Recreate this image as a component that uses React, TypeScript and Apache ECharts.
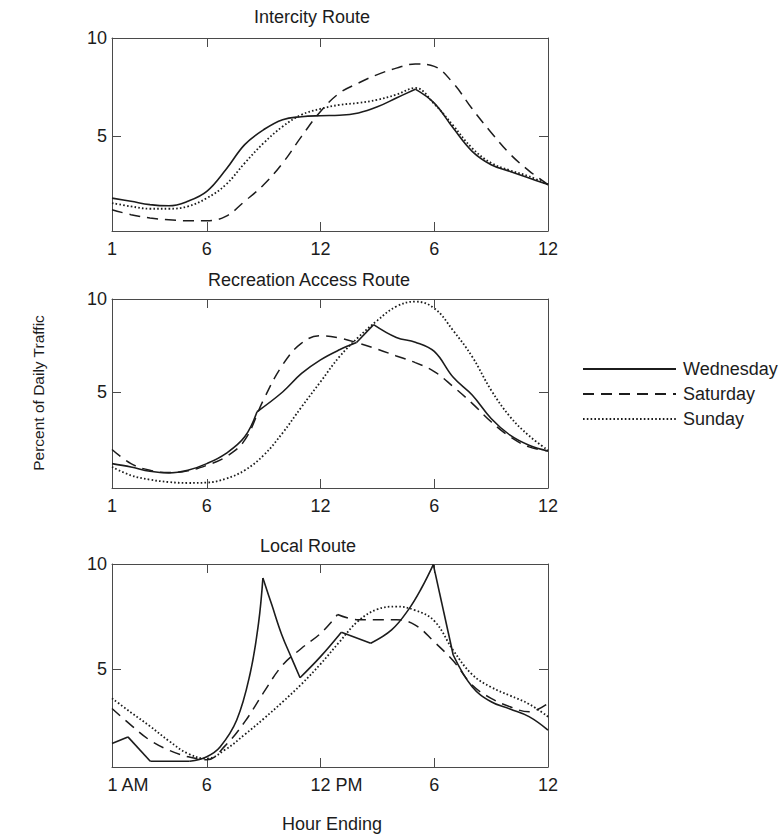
import React, { useEffect, useRef } from "react";
import * as echarts from "echarts";

const FONT = "'Liberation Sans', Arial, Helvetica, sans-serif";
const INK = "#1c1c1c";
const AXIS = "#4a4a4a";

// ---------- text / ticks ----------
const panelTitles = ["Intercity Route", "Recreation Access Route", "Local Route"];
const dayNames = ["Wednesday", "Saturday", "Sunday"];
const xLabelValues = [1, 6, 12, 18, 24];
const xTickValues = [6, 12, 18];
const hourLabels = ["1", "6", "12", "6", "12"];
const localHourLabels = ["1 AM", "6", "12 PM", "6", "12"];
const yLabelValues = [5, 10];
const yTickValues = [5];
const xAxisTitle = "Hour Ending";
const yAxisTitle = "Percent of Daily Traffic";

// ---------- data ----------
const hours = [1, 2, 3, 4, 5, 6, 7, 8, 9, 10, 11, 12, 13, 14, 15, 16, 17, 18, 19, 20, 21, 22, 23, 24];

// Intercity Route
const intercityWed = [1.86, 1.7, 1.53, 1.47, 1.7, 2.2, 3.3, 4.58, 5.34, 5.85, 6.0, 6.05, 6.07, 6.19, 6.5, 6.95, 7.4, 6.69, 5.42, 4.24, 3.56, 3.22, 2.88, 2.55];
const intercityWedCorners = [17];
const intercitySat = [1.27, 1.02, 0.85, 0.76, 0.71, 0.71, 0.93, 1.7, 2.54, 3.64, 5.0, 6.27, 7.2, 7.71, 8.14, 8.47, 8.68, 8.56, 7.7, 6.4, 5.2, 4.1, 3.25, 2.55];
const intercitySun = [1.61, 1.44, 1.32, 1.32, 1.44, 1.86, 2.54, 3.64, 4.66, 5.5, 6.1, 6.4, 6.6, 6.7, 6.86, 7.12, 7.46, 6.65, 5.55, 4.4, 3.65, 3.27, 2.97, 2.55];

// Recreation Access Route
const recWedHours = [1, 2, 3, 4, 5, 6, 7, 8, 8.65, 10, 11, 12, 13, 13.9, 14.8, 16, 17, 18, 19, 20, 21, 22, 23, 24];
const recWed = [1.15, 0.97, 0.74, 0.65, 0.79, 1.15, 1.69, 2.59, 3.94, 5.0, 6.0, 6.73, 7.27, 7.66, 8.62, 7.93, 7.68, 7.18, 5.79, 4.84, 3.58, 2.68, 2.14, 1.83];
const recWedCorners = [8.65, 13.9, 14.8];
const recSat = [1.91, 1.15, 0.79, 0.67, 0.76, 1.06, 1.51, 2.41, 4.6, 6.46, 7.63, 8.02, 7.9, 7.63, 7.3, 6.94, 6.58, 6.1, 5.29, 4.39, 3.4, 2.59, 2.05, 1.83];
const recSun = [0.97, 0.52, 0.29, 0.16, 0.11, 0.13, 0.34, 0.79, 1.6, 2.8, 4.2, 5.55, 6.9, 7.95, 8.85, 9.6, 9.86, 9.5, 8.3, 6.9, 5.1, 3.67, 2.65, 1.87];

// Local Route
const localWedHours = [1, 1.84, 3.02, 5.1, 6, 6.7, 7.58, 8.29, 8.73, 8.96, 9.43, 9.96, 10.48, 10.92, 12, 13.1, 14.65, 15.75, 16.63, 17.33, 17.95, 19, 20, 21, 22, 23, 24];
const localWed = [1.48, 1.79, 0.63, 0.63, 0.85, 1.31, 2.59, 4.81, 7.19, 9.33, 8.06, 6.63, 5.52, 4.6, 5.6, 6.76, 6.24, 6.87, 7.82, 8.86, 9.97, 5.68, 4.17, 3.46, 3.11, 2.75, 2.11];
const localWedCorners = [1.84, 3.02, 5.1, 8.96, 10.92, 13.1, 14.65, 17.95, 19];
const localSatHours = [1, 2, 3, 4, 5, 6, 7, 8, 9, 10, 11, 12, 12.9, 14, 15, 16, 17, 18, 19, 20, 21, 22, 23, 24];
const localSat = [3.14, 2.35, 1.63, 1.16, 0.85, 0.7, 1.4, 2.5, 3.9, 5.2, 6.0, 6.7, 7.6, 7.35, 7.35, 7.35, 7.1, 6.3, 5.4, 4.25, 3.62, 3.22, 2.98, 3.38];
const localSatCorners = [12.9];
const localSun = [3.62, 2.95, 2.3, 1.6, 1.0, 0.76, 1.2, 1.9, 2.65, 3.45, 4.3, 5.25, 6.3, 7.3, 7.85, 7.98, 7.8, 7.3, 5.9, 4.75, 4.15, 3.75, 3.35, 2.75];

// ---------- layout ----------
const panelLayout = [
  { top: 38, height: 193, yMin: 0.19, titleY: 17 },
  { top: 299, height: 189, yMin: -0.16, titleY: 280 },
  { top: 564, height: 203, yMin: 0.36, titleY: 546 },
];
const titleX = [312, 309, 308];

const dayStyles: Record<string, any> = {
  Wednesday: { type: "solid", width: 1.6 },
  Saturday: { type: [11, 7], width: 1.5 },
  Sunday: { type: [1.6, 2.2], width: 1.8 },
};

function splitSegments(xs: number[], ys: number[], corners: number[]) {
  const segs: number[][][] = [];
  let cur: number[][] = [];
  xs.forEach((x, i) => {
    cur.push([x, ys[i]]);
    if (corners.includes(x) && i > 0 && i < xs.length - 1) {
      segs.push(cur);
      cur = [[x, ys[i]]];
    }
  });
  if (cur.length > 1) segs.push(cur);
  return segs;
}

const panelSeries = [
  [
    { day: "Wednesday", x: hours, y: intercityWed, corners: intercityWedCorners },
    { day: "Saturday", x: hours, y: intercitySat, corners: [] },
    { day: "Sunday", x: hours, y: intercitySun, corners: [] },
  ],
  [
    { day: "Wednesday", x: recWedHours, y: recWed, corners: recWedCorners },
    { day: "Saturday", x: hours, y: recSat, corners: [] },
    { day: "Sunday", x: hours, y: recSun, corners: [] },
  ],
  [
    { day: "Wednesday", x: localWedHours, y: localWed, corners: localWedCorners },
    { day: "Saturday", x: localSatHours, y: localSat, corners: localSatCorners },
    { day: "Sunday", x: hours, y: localSun, corners: [] },
  ],
];

function buildOption() {
  const grid: any[] = [];
  const xAxis: any[] = [];
  const yAxis: any[] = [];
  const series: any[] = [];
  const lineStyleAxis = { color: AXIS, width: 1 };
  const labelText = { fontSize: 18, fontFamily: FONT, color: INK };

  panelLayout.forEach((p, i) => {
    grid.push({ left: 112, width: 436, top: p.top, height: p.height, containLabel: false });
    const labels = i === 2 ? localHourLabels : hourLabels;
    xAxis.push({
      type: "value", gridIndex: i, min: 1, max: 24, position: "bottom",
      axisLine: { show: true, onZero: false, lineStyle: lineStyleAxis },
      axisTick: { show: true, inside: true, length: 9, customValues: xTickValues, lineStyle: lineStyleAxis },
      axisLabel: {
        show: true, margin: 9, customValues: xLabelValues, ...labelText,
        formatter: (v: number) => {
          const t = labels[xLabelValues.indexOf(v)] ?? "";
          return t.includes(" ") ? `{s|${t}}` : t;
        },
        rich: { s: { ...labelText, padding: [0, 0, 0, 32] } },
      },
      splitLine: { show: false },
    });
    xAxis.push({
      type: "value", gridIndex: i, min: 1, max: 24, position: "top",
      axisLine: { show: true, onZero: false, lineStyle: lineStyleAxis },
      axisTick: { show: true, inside: true, length: 9, customValues: xTickValues, lineStyle: lineStyleAxis },
      axisLabel: { show: false },
      splitLine: { show: false },
    });
    yAxis.push({
      type: "value", gridIndex: i, min: p.yMin, max: 10, position: "left",
      axisLine: { show: true, onZero: false, lineStyle: lineStyleAxis },
      axisTick: { show: true, inside: true, length: 9, customValues: yTickValues, lineStyle: lineStyleAxis },
      axisLabel: { show: true, margin: 5, customValues: yLabelValues, ...labelText },
      splitLine: { show: false },
    });
    yAxis.push({
      type: "value", gridIndex: i, min: p.yMin, max: 10, position: "right",
      axisLine: { show: true, onZero: false, lineStyle: lineStyleAxis },
      axisTick: { show: true, inside: true, length: 9, customValues: yTickValues, lineStyle: lineStyleAxis },
      axisLabel: { show: false },
      splitLine: { show: false },
    });

    panelSeries[i].forEach((s) => {
      const segs = splitSegments(s.x, s.y, s.corners);
      segs.forEach((seg) => {
        series.push({
          type: "line",
          name: s.day,
          xAxisIndex: 2 * i,
          yAxisIndex: 2 * i,
          data: seg,
          smooth: 0.4,
          symbol: "none",
          showSymbol: false,
          silent: true,
          lineStyle: { color: INK, ...dayStyles[s.day] },
          itemStyle: { color: INK },
        });
      });
    });
  });

  const graphic: any[] = panelTitles.map((t, i) => ({
    type: "text", x: titleX[i], y: panelLayout[i].titleY,
    style: { text: t, fontSize: 18, fontFamily: FONT, fill: INK, align: "center", verticalAlign: "middle" },
  }));
  graphic.push({
    type: "text", x: 332, y: 824,
    style: { text: xAxisTitle, fontSize: 18, fontFamily: FONT, fill: INK, align: "center", verticalAlign: "middle" },
  });
  graphic.push({
    type: "text", x: 38, y: 393, rotation: Math.PI / 2,
    style: { text: yAxisTitle, fontSize: 15.5, fontFamily: FONT, fill: INK, align: "center", verticalAlign: "middle" },
  });

  return {
    animation: false,
    backgroundColor: "#ffffff",
    grid, xAxis, yAxis, series, graphic,
    legend: {
      data: dayNames,
      orient: "vertical",
      left: 577,
      top: 355,
      itemWidth: 93,
      itemHeight: 14,
      itemGap: 7,
      selectedMode: false,
      itemStyle: { opacity: 0, borderWidth: 0 },
      textStyle: { fontSize: 18, fontFamily: FONT, color: INK, padding: [0, 0, 0, 2] },
    },
  };
}

export default function App() {
  const ref = useRef<HTMLDivElement>(null);
  useEffect(() => {
    if (!ref.current) return;
    const chart = echarts.init(ref.current, null, { renderer: "svg" });
    chart.setOption(buildOption() as any);
    return () => chart.dispose();
  }, []);
  return (
    <div
      ref={ref}
      style={{ position: "absolute", left: 0, top: 0, width: 783, height: 838, background: "#fff" }}
    />
  );
}
